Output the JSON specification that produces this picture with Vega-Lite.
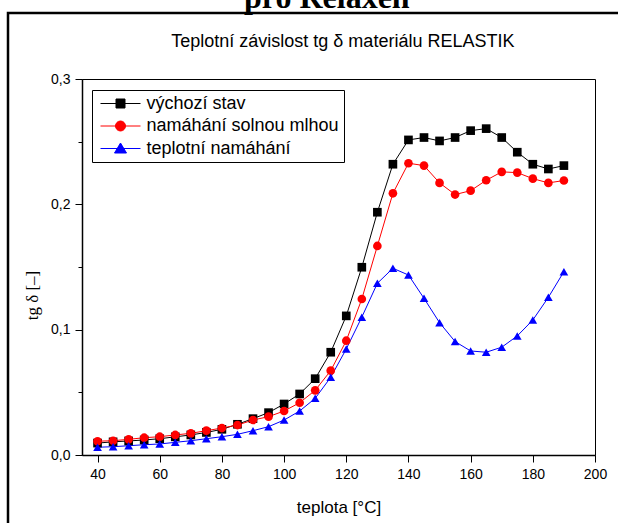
{
  "$schema": "https://vega.github.io/schema/vega-lite/v6.json",
  "width": 513,
  "height": 376,
  "autosize": {"type": "none"},
  "padding": {"left": 82, "top": 79, "right": 23, "bottom": 68},
  "background": "white",
  "config": {"view": {"stroke": "black", "strokeWidth": 1}, "font": "Liberation Sans"},
  "datasets": {
    "d": [
      {"s":"výchozí stav","T":40,"v":0.0095},{"s":"výchozí stav","T":45,"v":0.0105},{"s":"výchozí stav","T":50,"v":0.0112},{"s":"výchozí stav","T":55,"v":0.012},{"s":"výchozí stav","T":60,"v":0.013},{"s":"výchozí stav","T":65,"v":0.0145},{"s":"výchozí stav","T":70,"v":0.016},{"s":"výchozí stav","T":75,"v":0.018},{"s":"výchozí stav","T":80,"v":0.0205},{"s":"výchozí stav","T":85,"v":0.0245},{"s":"výchozí stav","T":90,"v":0.029},{"s":"výchozí stav","T":95,"v":0.0338},{"s":"výchozí stav","T":100,"v":0.0407},{"s":"výchozí stav","T":105,"v":0.0487},{"s":"výchozí stav","T":110,"v":0.0609},{"s":"výchozí stav","T":115,"v":0.082},{"s":"výchozí stav","T":120,"v":0.111},{"s":"výchozí stav","T":125,"v":0.1498},{"s":"výchozí stav","T":130,"v":0.1937},{"s":"výchozí stav","T":135,"v":0.232},{"s":"výchozí stav","T":140,"v":0.2514},{"s":"výchozí stav","T":145,"v":0.2533},{"s":"výchozí stav","T":150,"v":0.2506},{"s":"výchozí stav","T":155,"v":0.2533},{"s":"výchozí stav","T":160,"v":0.2588},{"s":"výchozí stav","T":165,"v":0.2604},{"s":"výchozí stav","T":170,"v":0.2533},{"s":"výchozí stav","T":175,"v":0.2416},{"s":"výchozí stav","T":180,"v":0.232},{"s":"výchozí stav","T":185,"v":0.2282},{"s":"výchozí stav","T":190,"v":0.2309},
      {"s":"namáhání solnou mlhou","T":40,"v":0.011},{"s":"namáhání solnou mlhou","T":45,"v":0.0114},{"s":"namáhání solnou mlhou","T":50,"v":0.0125},{"s":"namáhání solnou mlhou","T":55,"v":0.0138},{"s":"namáhání solnou mlhou","T":60,"v":0.0146},{"s":"namáhání solnou mlhou","T":65,"v":0.016},{"s":"namáhání solnou mlhou","T":70,"v":0.0173},{"s":"namáhání solnou mlhou","T":75,"v":0.0194},{"s":"namáhání solnou mlhou","T":80,"v":0.0215},{"s":"namáhání solnou mlhou","T":85,"v":0.0239},{"s":"namáhání solnou mlhou","T":90,"v":0.0279},{"s":"namáhání solnou mlhou","T":95,"v":0.0306},{"s":"namáhání solnou mlhou","T":100,"v":0.0351},{"s":"namáhání solnou mlhou","T":105,"v":0.0417},{"s":"namáhání solnou mlhou","T":110,"v":0.0516},{"s":"namáhání solnou mlhou","T":115,"v":0.0673},{"s":"namáhání solnou mlhou","T":120,"v":0.0912},{"s":"namáhání solnou mlhou","T":125,"v":0.1245},{"s":"namáhání solnou mlhou","T":130,"v":0.1668},{"s":"namáhání solnou mlhou","T":135,"v":0.2088},{"s":"namáhání solnou mlhou","T":140,"v":0.2328},{"s":"namáhání solnou mlhou","T":145,"v":0.2309},{"s":"namáhání solnou mlhou","T":150,"v":0.2171},{"s":"namáhání solnou mlhou","T":155,"v":0.2078},{"s":"namáhání solnou mlhou","T":160,"v":0.2109},{"s":"namáhání solnou mlhou","T":165,"v":0.2192},{"s":"namáhání solnou mlhou","T":170,"v":0.2259},{"s":"namáhání solnou mlhou","T":175,"v":0.2253},{"s":"namáhání solnou mlhou","T":180,"v":0.2205},{"s":"namáhání solnou mlhou","T":185,"v":0.2171},{"s":"namáhání solnou mlhou","T":190,"v":0.219},
      {"s":"teplotní namáhání","T":40,"v":0.0062},{"s":"teplotní namáhání","T":45,"v":0.0066},{"s":"teplotní namáhání","T":50,"v":0.0074},{"s":"teplotní namáhání","T":55,"v":0.0082},{"s":"teplotní namáhání","T":60,"v":0.0088},{"s":"teplotní namáhání","T":65,"v":0.0101},{"s":"teplotní namáhání","T":70,"v":0.0114},{"s":"teplotní namáhání","T":75,"v":0.013},{"s":"teplotní namáhání","T":80,"v":0.0146},{"s":"teplotní namáhání","T":85,"v":0.0165},{"s":"teplotní namáhání","T":90,"v":0.0194},{"s":"teplotní namáhání","T":95,"v":0.0226},{"s":"teplotní namáhání","T":100,"v":0.0279},{"s":"teplotní namáhání","T":105,"v":0.0351},{"s":"teplotní namáhání","T":110,"v":0.0452},{"s":"teplotní namáhání","T":115,"v":0.062},{"s":"teplotní namáhání","T":120,"v":0.0846},{"s":"teplotní namáhání","T":125,"v":0.11},{"s":"teplotní namáhání","T":130,"v":0.137},{"s":"teplotní namáhání","T":135,"v":0.149},{"s":"teplotní namáhání","T":140,"v":0.1436},{"s":"teplotní namáhání","T":145,"v":0.125},{"s":"teplotní namáhání","T":150,"v":0.1056},{"s":"teplotní namáhání","T":155,"v":0.0905},{"s":"teplotní namáhání","T":160,"v":0.083},{"s":"teplotní namáhání","T":165,"v":0.082},{"s":"teplotní namáhání","T":170,"v":0.086},{"s":"teplotní namáhání","T":175,"v":0.095},{"s":"teplotní namáhání","T":180,"v":0.1077},{"s":"teplotní namáhání","T":185,"v":0.1258},{"s":"teplotní namáhání","T":190,"v":0.1463}
    ]
  },
  "layer": [
    {
      "data": {"name": "d"},
      "mark": {"type": "line", "strokeWidth": 1},
      "encoding": {
        "x": {
          "field": "T", "type": "quantitative",
          "scale": {"domain": [35, 200], "nice": false, "zero": false},
          "axis": {
            "title": "teplota [°C]",
            "values": [40,50,60,70,80,90,100,110,120,130,140,150,160,170,180,190,200],
            "labelExpr": "datum.value % 20 === 0 ? datum.label : ''",
            "tickSize": {"condition": {"test": "datum.value % 20 === 0", "value": 7}, "value": 4},
            "grid": false, "domainColor": "black", "domainWidth": 1.5, "tickColor": "black", "tickWidth": 1,
            "labelFont": "Liberation Sans", "labelFontSize": 14, "labelColor": "black", "labelPadding": 5,
            "labelOverlap": false, "labelFlush": false,
            "titleFont": "Liberation Sans", "titleFontSize": 17, "titleFontWeight": "normal", "titleColor": "black", "titlePadding": 18
          }
        },
        "y": {
          "field": "v", "type": "quantitative",
          "scale": {"domain": [0, 0.3], "nice": false, "zero": false},
          "axis": {
            "title": "tg δ [–]",
            "values": [0, 0.05, 0.1, 0.15, 0.2, 0.25, 0.3],
            "labelExpr": "abs(datum.value*10 - round(datum.value*10)) < 0.001 ? replace(format(datum.value, '.1f'), '.', ',') : ''",
            "tickSize": {"condition": {"test": "abs(datum.value*10 - round(datum.value*10)) < 0.001", "value": 7}, "value": 4},
            "grid": false, "domainColor": "black", "domainWidth": 1.5, "tickColor": "black", "tickWidth": 1,
            "labelFont": "Liberation Sans", "labelFontSize": 14, "labelColor": "black", "labelPadding": 5,
            "labelOverlap": false, "labelFlush": false,
            "titleFont": "Liberation Serif", "titleFontSize": 17, "titleFontWeight": "normal", "titleColor": "black",
            "titleX": -50, "titleY": 216, "titleAngle": -90, "titleAlign": "center", "titleBaseline": "middle"
          }
        },
        "color": {
          "field": "s", "type": "nominal",
          "scale": {"domain": ["výchozí stav", "namáhání solnou mlhou", "teplotní namáhání"], "range": ["#000000", "#ff0000", "#0000ff"]},
          "legend": {
            "orient": "none", "legendX": 10, "legendY": 11, "title": null,
            "fillColor": "white", "strokeColor": "black", "padding": 4.5, "cornerRadius": 0,
            "labelFont": "Liberation Sans", "labelFontSize": 18, "labelColor": "black", "labelLimit": 400,
            "symbolSize": 100, "symbolOffset": 15, "labelOffset": 17, "rowPadding": 4.5, "symbolStrokeWidth": 1, "symbolOpacity": 1
          }
        }
      }
    },
    {
      "data": {"name": "d"},
      "transform": [{"filter": "false"}],
      "mark": {"type": "point", "filled": true, "opacity": 1},
      "encoding": {
        "x": {"field": "T", "type": "quantitative", "scale": {"domain": [35, 200], "nice": false, "zero": false}},
        "y": {"field": "v", "type": "quantitative", "scale": {"domain": [0, 0.3], "nice": false, "zero": false}},
        "color": {"field": "s", "type": "nominal"},
        "shape": {
          "field": "s", "type": "nominal",
          "scale": {"domain": ["výchozí stav", "namáhání solnou mlhou", "teplotní namáhání"], "range": ["M-4,0L4,0M-0.9,-0.9L0.9,-0.9L0.9,0.9L-0.9,0.9Z", "M-4,0L4,0M-1,0A1,1,0,1,0,1,0A1,1,0,1,0,-1,0Z", "M-4,0L4,0M0,-1.1L1.2,0.9L-1.2,0.9Z"]},
          "legend": {
            "orient": "none", "legendX": 10, "legendY": 11, "title": null,
            "fillColor": "white", "strokeColor": "black", "padding": 4.5, "cornerRadius": 0,
            "labelFont": "Liberation Sans", "labelFontSize": 18, "labelColor": "black", "labelLimit": 400,
            "symbolSize": 100, "symbolOffset": 15, "labelOffset": 17, "rowPadding": 4.5, "symbolStrokeWidth": 1, "symbolOpacity": 1
          }
        }
      }
    },
    {
      "data": {"name": "d"},
      "transform": [{"filter": "datum.s === 'výchozí stav'"}],
      "mark": {"type": "point", "filled": true, "size": 75, "opacity": 1, "shape": "square"},
      "encoding": {
        "x": {"field": "T", "type": "quantitative", "scale": {"domain": [35, 200], "nice": false, "zero": false}},
        "y": {"field": "v", "type": "quantitative", "scale": {"domain": [0, 0.3], "nice": false, "zero": false}},
        "color": {"field": "s", "type": "nominal"}
      }
    },
    {
      "data": {"name": "d"},
      "transform": [{"filter": "datum.s === 'namáhání solnou mlhou'"}],
      "mark": {"type": "point", "filled": true, "size": 75, "opacity": 1, "shape": "circle"},
      "encoding": {
        "x": {"field": "T", "type": "quantitative", "scale": {"domain": [35, 200], "nice": false, "zero": false}},
        "y": {"field": "v", "type": "quantitative", "scale": {"domain": [0, 0.3], "nice": false, "zero": false}},
        "color": {"field": "s", "type": "nominal"}
      }
    },
    {
      "data": {"name": "d"},
      "transform": [{"filter": "datum.s === 'teplotní namáhání'"}],
      "mark": {"type": "point", "filled": true, "size": 75, "opacity": 1, "shape": "triangle-up"},
      "encoding": {
        "x": {"field": "T", "type": "quantitative", "scale": {"domain": [35, 200], "nice": false, "zero": false}},
        "y": {"field": "v", "type": "quantitative", "scale": {"domain": [0, 0.3], "nice": false, "zero": false}},
        "color": {"field": "s", "type": "nominal"}
      }
    },
    {
      "data": {"values": [{}]},
      "mark": {"type": "rect", "filled": false, "stroke": "black", "strokeWidth": 2.5, "clip": false},
      "encoding": {
        "x": {"datum": 11.2, "type": "quantitative"},
        "x2": {"datum": 230},
        "y": {"datum": 0.3527, "type": "quantitative"},
        "y2": {"datum": -0.08}
      }
    },
    {
      "data": {"values": [{"t": "Teplotní závislost tg δ materiálu RELASTIK"}]},
      "mark": {"type": "text", "font": "Liberation Sans", "fontSize": 18, "align": "center", "baseline": "alphabetic", "color": "black", "clip": false},
      "encoding": {
        "x": {"datum": 118.9, "type": "quantitative"},
        "y": {"datum": 0.3255, "type": "quantitative"},
        "text": {"field": "t"}
      }
    },
    {
      "data": {"values": [{"t": "pro Relaxen"}]},
      "mark": {"type": "text", "font": "Liberation Serif", "fontSize": 32, "fontWeight": "bold", "align": "center", "baseline": "alphabetic", "color": "black", "clip": false},
      "encoding": {
        "x": {"datum": 113.75, "type": "quantitative"},
        "y": {"datum": 0.3567, "type": "quantitative"},
        "text": {"field": "t"}
      }
    }
  ]
}
